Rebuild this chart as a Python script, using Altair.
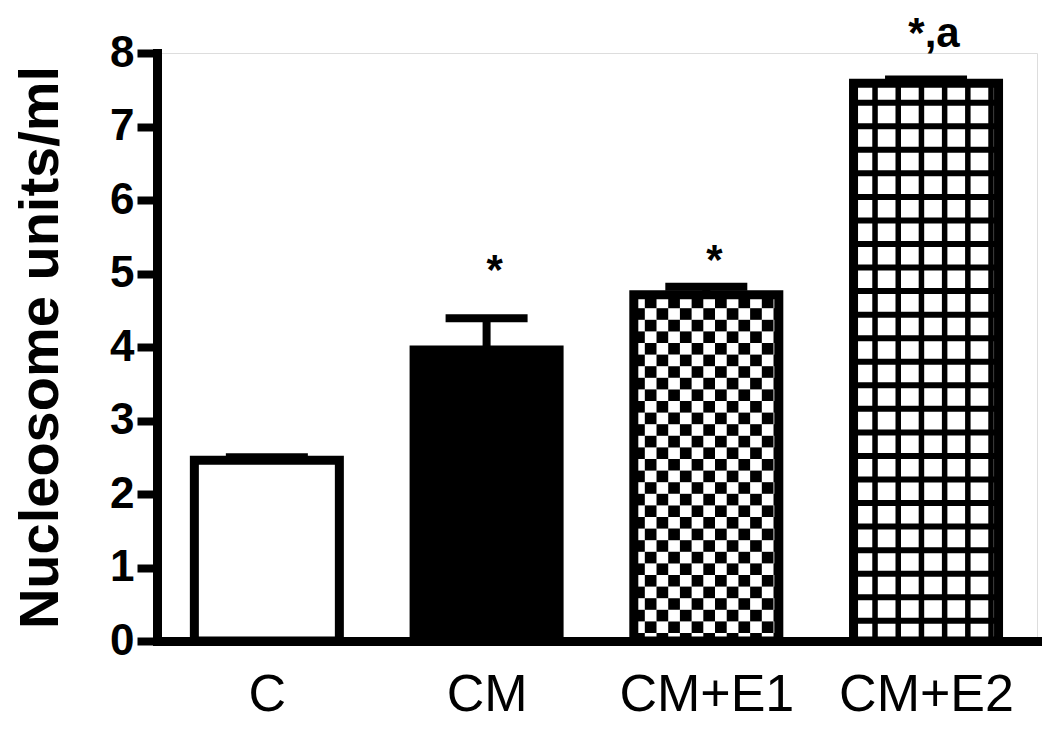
import altair as alt
import pandas as pd

# ---- data ----
groups = ["C", "CM", "CM+E1", "CM+E2"]
means = [2.46, 3.96, 4.71, 7.59]
sems = [0.04, 0.43, 0.11, 0.05]
bar_fill = ["white", "black", "white", "white"]
sig_text = ["", "*", "*", "*,a"]
sig_y = [None, 4.86, 5.0, 8.08]
y_ticks = [0, 1, 2, 3, 4, 5, 6, 7, 8]

# ---- geometry / style ----
W, H = 880, 588
XMIN, XMAX = -0.5, 3.505
YMAX = 8
PXX = W / (XMAX - XMIN)
PXY = H / YMAX
HALF = 72.5 / PXX          # bar half width (data units)
CAP = 41 / PXX             # error cap half width
FONT = "Liberation Sans"

df = pd.DataFrame({
    "idx": list(range(len(groups))),
    "group": groups,
    "mean": means,
    "sem": sems,
    "fillc": bar_fill,
})
df["x0"] = df["idx"] - HALF
df["x1"] = df["idx"] + HALF
df["zero"] = 0.0
df["top"] = df["mean"] + df["sem"]
df["c0"] = df["idx"] - CAP
df["c1"] = df["idx"] + CAP

ann = pd.DataFrame({"idx": list(range(len(groups))), "txt": sig_text, "ty": sig_y}).dropna()

# checkerboard pattern cells for CM+E1
i_e1 = groups.index("CM+E1")
cells = []
top_px = means[i_e1] * PXY
for k in range(-1, 40):
    r0 = max(0.0, 8 + 11.6 * k)
    r1 = min(top_px, 8 + 11.6 * (k + 1))
    if r0 >= top_px:
        break
    for j in range(-1, 13):
        if (j + k) % 2 != 0:
            continue
        b0 = max(-72.5, -61.5 + 11.7 * j)
        b1 = min(72.5, -61.5 + 11.7 * (j + 1))
        if b1 <= b0:
            continue
        cells.append({"x0": i_e1 + b0 / PXX, "x1": i_e1 + b1 / PXX,
                      "y0": r0 / PXY, "y1": r1 / PXY})
cells = pd.DataFrame(cells)

# grid pattern lines for CM+E2
i_e2 = groups.index("CM+E2")
vlines = pd.DataFrame({"x": [i_e2 + (-51 + 23.2 * j) / PXX for j in range(6)],
                       "y0": 0.0, "y1": means[i_e2]})
hy = []
v = 0.275
while v < means[i_e2]:
    hy.append(v)
    v += 0.3204
hlines = pd.DataFrame({"y": hy, "x0": i_e2 - HALF, "x1": i_e2 + HALF})

xscale = alt.Scale(domain=[XMIN, XMAX], nice=False, zero=False)
yscale = alt.Scale(domain=[0, YMAX], nice=False)

label_expr = "[" + ",".join("'" + g + "'" for g in groups) + "][datum.value]"
xaxis = alt.Axis(values=list(range(len(groups))), labelExpr=label_expr, ticks=False, tickSize=0,
                 grid=False, domainColor="black", domainWidth=9, domainCap="square",
                 labelFont=FONT, labelFontSize=52, labelFontWeight="normal", labelColor="black",
                 labelPadding=28, labelAngle=0, title=None)
yaxis = alt.Axis(values=y_ticks, grid=False, domainColor="black", domainWidth=9, domainCap="square",
                 tickColor="black", tickWidth=8, tickSize=20, labelFont=FONT, labelFontSize=44,
                 labelFontWeight="bold", labelColor="black", labelPadding=3,
                 title="Nucleosome units/ml", titleFont=FONT, titleFontSize=56,
                 titleFontWeight="bold", titleColor="black", titleAngle=-90,
                 titleX=-100, titleY=H / 2, titleAlign="center", titleBaseline="alphabetic")

X = lambda f: alt.X(f, type="quantitative", scale=xscale, axis=xaxis)
Y = lambda f: alt.Y(f, type="quantitative", scale=yscale, axis=yaxis)

base = alt.Chart(df)

fills = base.mark_rect(strokeWidth=0).encode(
    x=X("x0"), x2="x1", y=Y("mean"), y2="zero",
    fill=alt.Fill("fillc:N", scale=None))

checker = alt.Chart(cells).mark_rect(color="black", strokeWidth=0).encode(
    x=X("x0"), x2="x1", y=Y("y0"), y2="y1")

vgrid = alt.Chart(vlines).mark_rule(color="black", strokeWidth=5.5).encode(
    x=X("x"), y=Y("y0"), y2="y1")
hgrid = alt.Chart(hlines).mark_rule(color="black", strokeWidth=6).encode(
    x=X("x0"), x2="x1", y=Y("y"))

outline = base.mark_rect(fillOpacity=0, stroke="black", strokeWidth=9).encode(
    x=X("x0"), x2="x1", y=Y("mean"), y2="zero")

err = base.mark_rule(color="black", strokeWidth=8).encode(
    x=X("idx"), y=Y("mean"), y2="top")
cap = base.mark_rule(color="black", strokeWidth=8).encode(
    x=X("c0"), x2="c1", y=Y("top"))

labels = alt.Chart(ann).mark_text(font=FONT, fontSize=42, fontWeight="bold", color="black",
                                  align="center", baseline="alphabetic", dx=8).encode(
    x=X("idx"), y=Y("ty"), text="txt:N")

chart = alt.layer(fills, checker, vgrid, hgrid, outline, err, cap, labels).properties(
    width=W, height=H,
    autosize=alt.AutoSizeParams(type="none"),
    padding={"left": 149, "top": 45, "right": 5, "bottom": 95},
).configure_view(stroke=None).configure(background="white")

chart.save("out.html", embed_options={"renderer": "svg", "actions": False})
